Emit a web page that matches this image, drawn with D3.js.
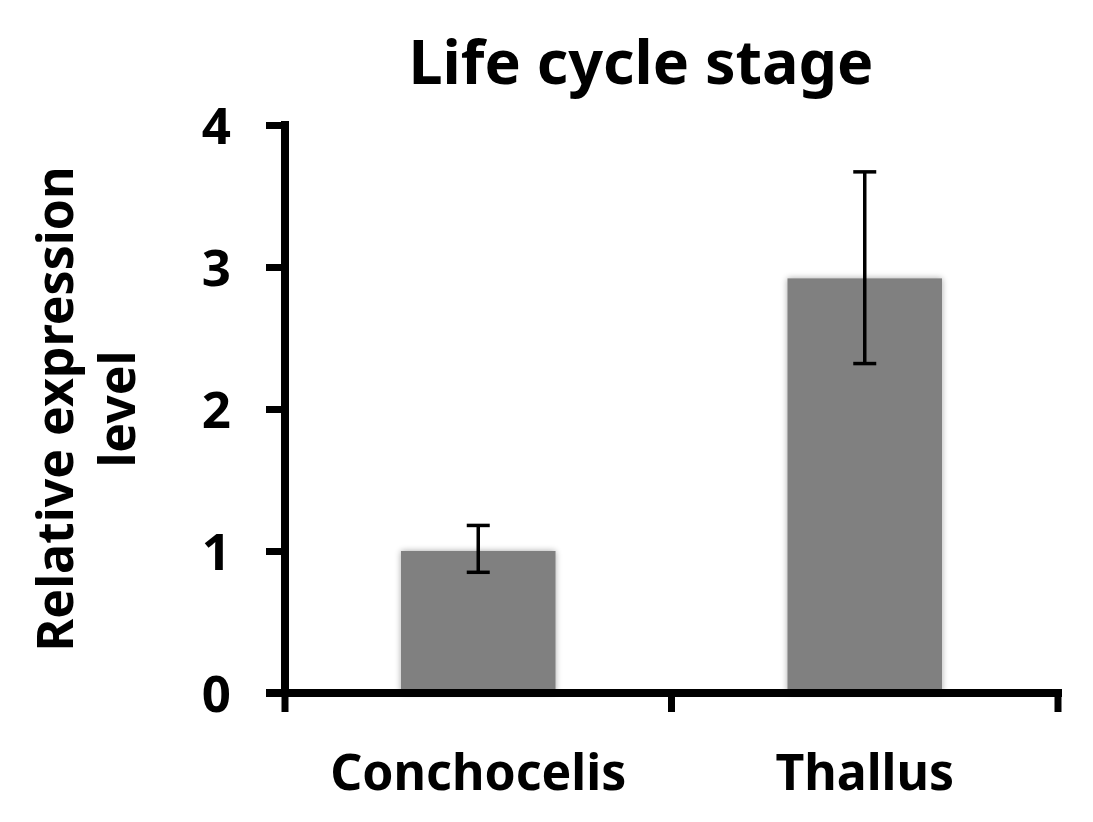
<!DOCTYPE html>
<html>
<head>
<meta charset="utf-8">
<script src="https://cdn.jsdelivr.net/npm/d3@7"></script>
<style>
  body { margin: 0; background: #fff; }
  text { font-family: "Noto Sans", "Open Sans", sans-serif; font-weight: bold; fill: #000; }
</style>
</head>
<body>
<div id="chart"></div>
<script>
const categories = ['Conchocelis', 'Thallus'];
const values = [1.0, 2.92];
const errLow = [0.85, 2.32];
const errHigh = [1.18, 3.67];
const yTicks = [0, 1, 2, 3, 4];

const W = 1093, H = 822;
const margin = {top: 125, right: 35, bottom: 129, left: 285};
const width = W - margin.left - margin.right;
const height = H - margin.top - margin.bottom;

const svg = d3.select('#chart')
    .append('svg')
        .attr('width', W)
        .attr('height', H);

// soft shadow behind bars
const defs = svg.append('defs');
const f = defs.append('filter').attr('id', 'shadow')
    .attr('x', '-10%').attr('y', '-10%').attr('width', '120%').attr('height', '120%');
f.append('feGaussianBlur').attr('in', 'SourceAlpha').attr('stdDeviation', 3).attr('result', 'b');
f.append('feComponentTransfer').attr('in', 'b').attr('result', 'b2')
    .append('feFuncA').attr('type', 'linear').attr('slope', 0.35);
const m = f.append('feMerge');
m.append('feMergeNode').attr('in', 'b2');
m.append('feMergeNode').attr('in', 'SourceGraphic');

const g = svg.append('g')
    .attr('transform', `translate(${margin.left},${margin.top})`);

const x = d3.scaleBand()
    .domain(categories)
    .range([0, width])
    .padding(0);

const y = d3.scaleLinear()
    .domain([0, 4])
    .range([height, 0]);

const barW = x.bandwidth() * 0.4;
const cx = d => x(d) + x.bandwidth() / 2;

// bars
g.selectAll('rect.bar')
    .data(categories)
    .enter()
    .append('rect')
        .attr('class', 'bar')
        .attr('x', d => cx(d) - barW / 2)
        .attr('y', (d, i) => y(values[i]))
        .attr('width', barW)
        .attr('height', (d, i) => height - y(values[i]))
        .attr('fill', '#808080')
        .attr('filter', 'url(#shadow)');

// error bars
const capW = 23;
const eb = g.selectAll('g.err')
    .data(categories)
    .enter()
    .append('g')
        .attr('class', 'err')
        .attr('stroke', '#000')
        .attr('stroke-width', 3.5);
eb.append('line')
    .attr('x1', cx).attr('x2', cx)
    .attr('y1', (d, i) => y(errLow[i]))
    .attr('y2', (d, i) => y(errHigh[i]));
eb.append('line')
    .attr('x1', d => cx(d) - capW / 2)
    .attr('x2', d => cx(d) + capW / 2)
    .attr('y1', (d, i) => y(errHigh[i]))
    .attr('y2', (d, i) => y(errHigh[i]));
eb.append('line')
    .attr('x1', d => cx(d) - capW / 2)
    .attr('x2', d => cx(d) + capW / 2)
    .attr('y1', (d, i) => y(errLow[i]))
    .attr('y2', (d, i) => y(errLow[i]));

// y axis
const yAxis = g.append('g')
    .call(d3.axisLeft(y).tickValues(yTicks).tickSize(19).tickPadding(35).tickFormat(d3.format('d')));
yAxis.select('.domain').remove();
yAxis.selectAll('.tick line').attr('stroke', '#000').attr('stroke-width', 7);
yAxis.selectAll('.tick text')
    .style('font-size', '51px')
    .attr('dy', '0.36em');
yAxis.append('line')
    .attr('x1', 0).attr('x2', 0)
    .attr('y1', -4).attr('y2', height + 4)
    .attr('stroke', '#000').attr('stroke-width', 8);

// x axis with boundary ticks
const bounds = [0, x(categories[1]), width];
const xAxis = g.append('g').attr('transform', `translate(0,${height})`);
xAxis.append('line')
    .attr('x1', -19).attr('x2', width + 4)
    .attr('y1', 0).attr('y2', 0)
    .attr('stroke', '#000').attr('stroke-width', 8);
xAxis.selectAll('line.bt')
    .data(bounds)
    .enter()
    .append('line')
        .attr('class', 'bt')
        .attr('x1', d => d).attr('x2', d => d)
        .attr('y1', 0).attr('y2', 19)
        .attr('stroke', '#000').attr('stroke-width', 7);
xAxis.selectAll('text.cat')
    .data(categories)
    .enter()
    .append('text')
        .attr('class', 'cat')
        .attr('x', cx)
        .attr('y', 97)
        .attr('text-anchor', 'middle')
        .style('font-size', '50px')
        .text(d => d);

// title
svg.append('text')
    .attr('x', 641)
    .attr('y', 84)
    .attr('text-anchor', 'middle')
    .style('font-size', '61px')
    .text('Life cycle stage');

// y label
const yl = svg.append('text')
    .attr('transform', `translate(73,${margin.top + y(2)}) rotate(-90)`)
    .attr('text-anchor', 'middle')
    .style('font-size', '50px');
yl.append('tspan').attr('x', 0).attr('dy', 0).text('Relative expression');
yl.append('tspan').attr('x', 0).attr('dy', 62).text('level');
</script>
</body>
</html>
